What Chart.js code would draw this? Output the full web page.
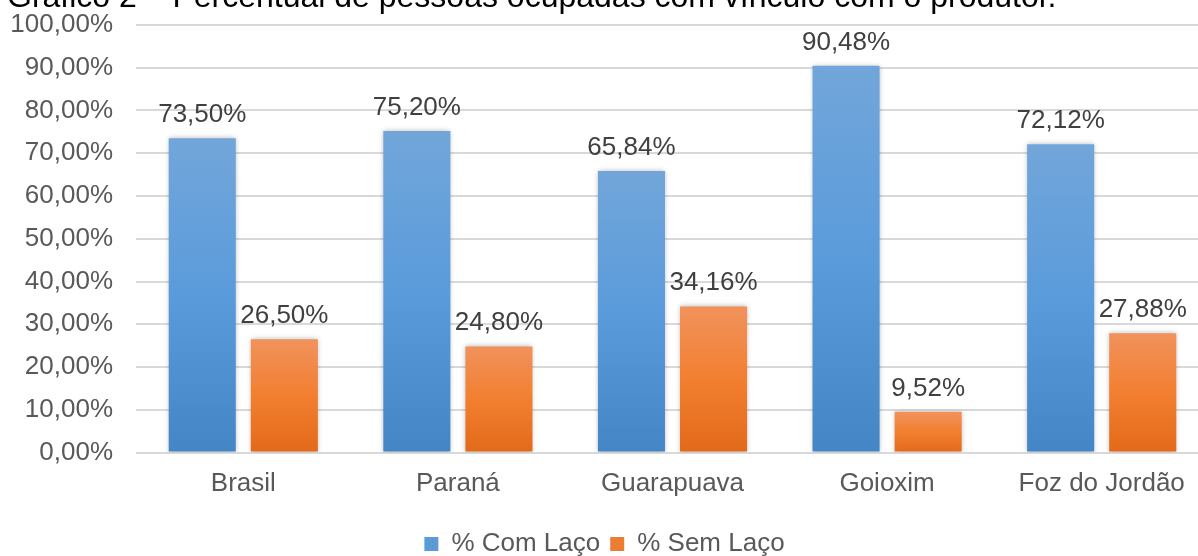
<!DOCTYPE html>
<html>
<head>
<meta charset="utf-8">
<script src="https://cdn.jsdelivr.net/npm/chart.js@4"></script>
<style>
  html, body { margin: 0; padding: 0; background: #fff; }
  #wrap { position: relative; width: 1198px; height: 556px; overflow: hidden; background: #fff; }
  #c { position: absolute; left: 0; top: 0; }
</style>
</head>
<body>
<div id="wrap"><canvas id="c" width="1209" height="567"></canvas></div>
<script>
const titleText = "Gráfico 2 – Percentual de pessoas ocupadas com vínculo com o produtor.";
const categories = ["Brasil", "Paraná", "Guarapuava", "Goioxim", "Foz do Jordão"];
const comLaco = [73.50, 75.20, 65.84, 90.48, 72.12];
const semLaco = [26.50, 24.80, 34.16, 9.52, 27.88];
const seriesNames = ["% Com Laço", "% Sem Laço"];
const yTicks = [0, 10, 20, 30, 40, 50, 60, 70, 80, 90, 100];

const FONT = "'Liberation Sans', Arial, sans-serif";
const fmt = v => v.toFixed(2).replace('.', ',') + '%';

function barGradient(stops, solid) {
  return function (ctx) {
    const chart = ctx.chart;
    if (ctx.type !== 'data' || !chart.chartArea || !chart.scales.y) return solid;
    const ys = chart.scales.y;
    const y0 = ys.getPixelForValue(ctx.raw);
    const y1 = ys.getPixelForValue(0);
    if (!isFinite(y0) || !isFinite(y1) || y1 - y0 < 1) return solid;
    const g = chart.ctx.createLinearGradient(0, y0, 0, y1);
    stops.forEach(s => g.addColorStop(s[0], s[1]));
    return g;
  };
}

const titlePlugin = {
  id: 'clippedTitle',
  afterDraw(chart) {
    const c = chart.ctx;
    c.save();
    c.font = "32px " + FONT;
    c.fillStyle = '#000';
    c.textBaseline = 'alphabetic';
    c.textAlign = 'left';
    c.fillText(titleText, 7, 7);
    c.restore();
  }
};

const shadowPlugin = {
  id: 'barShadow',
  beforeDatasetDraw(chart) {
    const c = chart.ctx;
    c.save();
    c.shadowColor = 'rgba(0,0,0,0.28)';
    c.shadowBlur = 5;
    c.shadowOffsetX = 0;
    c.shadowOffsetY = 0;
  },
  afterDatasetDraw(chart) {
    chart.ctx.restore();
  }
};

const labelPlugin = {
  id: 'valueLabels',
  afterDatasetsDraw(chart) {
    const c = chart.ctx;
    c.save();
    c.font = "26px " + FONT;
    c.fillStyle = '#404040';
    c.textAlign = 'center';
    c.textBaseline = 'alphabetic';
    chart.data.datasets.forEach((ds, i) => {
      const meta = chart.getDatasetMeta(i);
      meta.data.forEach((bar, j) => {
        c.fillText(fmt(ds.data[j]), bar.x, bar.y - 16);
      });
    });
    c.restore();
  }
};

new Chart(document.getElementById('c'), {
  type: 'bar',
  data: {
    labels: categories,
    datasets: [
      {
        label: seriesNames[0],
        data: comLaco,
        backgroundColor: barGradient([[0, '#72a6da'], [0.5, '#5a9bdb'], [1, '#4485c6']], '#5b9bd5'),
        categoryPercentage: 0.765,
        barPercentage: 0.817
      },
      {
        label: seriesNames[1],
        data: semLaco,
        backgroundColor: barGradient([[0, '#f1925c'], [0.5, '#f27f30'], [1, '#e3691a']], '#ed7d31'),
        categoryPercentage: 0.765,
        barPercentage: 0.817
      }
    ]
  },
  options: {
    responsive: false,
    animation: false,
    devicePixelRatio: 1,
    layout: { padding: { top: 25, left: 0, right: 0, bottom: 0 } },
    plugins: {
      legend: {
        position: 'bottom',
        labels: {
          boxWidth: 14,
          boxHeight: 14,
          padding: 10,
          color: '#595959',
          font: { family: FONT, size: 26 },
          generateLabels(chart) {
            const solid = ['#5b9bd5', '#ed7d31'];
            return chart.data.datasets.map((ds, i) => ({
              text: ds.label,
              fillStyle: solid[i],
              strokeStyle: solid[i],
              lineWidth: 0,
              hidden: false,
              datasetIndex: i,
              fontColor: '#595959'
            }));
          }
        }
      },
      title: { display: false },
      tooltip: { enabled: false }
    },
    scales: {
      x: {
        grid: { display: false, drawTicks: false },
        border: { display: false },
        ticks: { color: '#595959', font: { family: FONT, size: 26 }, padding: 16, maxRotation: 0 },
        afterFit(scale) { scale.height = 68.5; scale.paddingLeft = 0; scale.paddingRight = 0; }
      },
      y: {
        min: 0,
        max: 100,
        afterBuildTicks(scale) { scale.ticks = yTicks.map(v => ({ value: v })); },
        grid: { color: '#d9d9d9', lineWidth: 2, drawTicks: false },
        border: { display: false },
        ticks: {
          color: '#595959',
          font: { family: FONT, size: 26 },
          padding: 23,
          callback: v => fmt(v)
        },
        afterFit(scale) { scale.width = 136; scale.paddingTop = 0; scale.paddingBottom = 0; }
      }
    }
  },
  plugins: [shadowPlugin, labelPlugin, titlePlugin]
});
</script>
</body>
</html>
